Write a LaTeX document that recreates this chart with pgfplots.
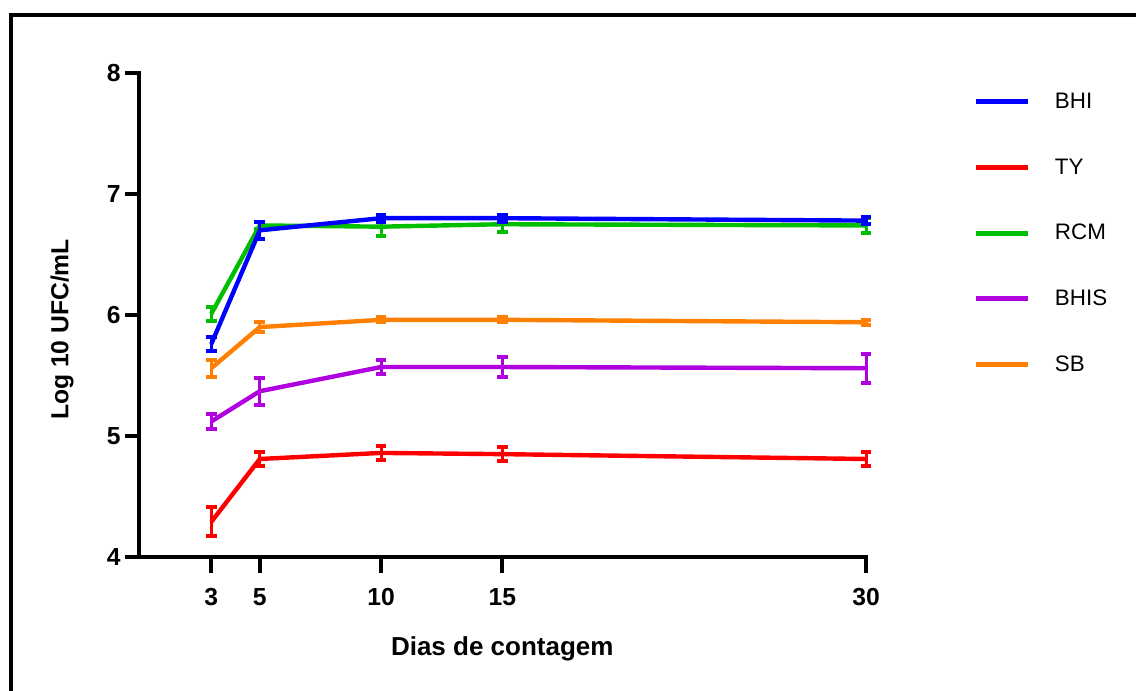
\documentclass[border=0pt]{standalone}
\usepackage{fontspec}
\setmainfont{Liberation Sans}
\usepackage{pgfplots}
\usepackage{pgfplotstable}
\pgfplotsset{compat=1.18}

\definecolor{cBHI}{RGB}{0,0,255}
\definecolor{cTY}{RGB}{255,0,0}
\definecolor{cRCM}{RGB}{0,190,0}
\definecolor{cBHIS}{RGB}{176,0,224}
\definecolor{cSB}{RGB}{255,128,0}

\pgfplotstableread{
x y e
3 5.76 0.06
5 6.70 0.07
10 6.80 0.03
15 6.80 0.03
30 6.78 0.03
}\tBHI
\pgfplotstableread{
x y e
3 4.29 0.12
5 4.81 0.06
10 4.86 0.06
15 4.85 0.06
30 4.81 0.06
}\tTY
\pgfplotstableread{
x y e
3 6.01 0.06
5 6.74 0.03
10 6.73 0.08
15 6.75 0.06
30 6.74 0.06
}\tRCM
\pgfplotstableread{
x y e
3 5.12 0.06
5 5.37 0.11
10 5.57 0.06
15 5.57 0.08
30 5.56 0.12
}\tBHIS
\pgfplotstableread{
x y e
3 5.56 0.07
5 5.90 0.04
10 5.96 0.02
15 5.96 0.02
30 5.94 0.02
}\tSB

\begin{document}
\begin{tikzpicture}
\useasboundingbox (0,0) rectangle (852pt,518.25pt);
\draw[line width=3pt] (7.9pt,-5pt) -- (7.9pt,507pt) -- (860pt,507pt);
\begin{axis}[
  at={(103.9pt,100.5pt)}, anchor=south west,
  scale only axis, width=545.6pt, height=363pt,
  xmin=0, xmax=30, ymin=4, ymax=8,
  clip=false,
  axis lines=left,
  axis line style={-, line width=3pt, line cap=rect},
  xtick={3,5,10,15,30}, ytick={4,5,6,7,8},
  tick align=outside, tick pos=left, major tick length=10pt,
  every tick/.style={draw=black, line width=3pt},
  /pgf/number format/assume math mode=true,
  ticklabel style={font=\bfseries\fontsize{18.5}{20}\selectfont},
  xticklabel style={yshift=-10pt},
  xlabel={Dias de contagem},
  ylabel={Log 10 UFC/mL},
  xlabel style={font=\bfseries\fontsize{19.5}{22}\selectfont, at={(axis description cs:0.5,-0.2025)}, anchor=base},
  ylabel style={font=\bfseries\fontsize{18.5}{20}\selectfont, at={(axis description cs:-0.105,0.47)}, anchor=center},
  every axis plot/.append style={line width=3.3pt, line join=round, mark=none},
  error bars/y dir=both, error bars/y explicit,
  error bars/error bar style={line width=2.25pt},
  error bars/error mark options={line width=3pt, mark size=4pt, rotate=90},
  legend image code/.code={\draw[line width=3.75pt] (0pt,-1pt) -- (39pt,-1pt);},
  legend style={at={(rel axis cs:1.148,0.960)}, anchor=north west, draw=none, fill=none,
    font=\fontsize{16.8}{18}\selectfont, row sep=37.25pt, column sep=18pt, inner sep=0pt,
    nodes={inner sep=0pt, text height=12pt, text depth=0pt}},
  legend cell align=left,
  reverse legend,
]
\addplot[cSB] table[x=x, y=y, y error=e] {\tSB};
\addlegendentry{SB}
\addplot[cBHIS] table[x=x, y=y, y error=e] {\tBHIS};
\addlegendentry{BHIS}
\addplot[cRCM] table[x=x, y=y, y error=e] {\tRCM};
\addlegendentry{RCM}
\addplot[cTY] table[x=x, y=y, y error=e] {\tTY};
\addlegendentry{TY}
\addplot[cBHI] table[x=x, y=y, y error=e] {\tBHI};
\addlegendentry{BHI}
% x-axis tick marks
\addplot[black, draw=none, forget plot,
  error bars/.cd, y dir=minus, y fixed=0.13, error mark=none,
  error bar style={line width=3pt, black, solid}]
  coordinates {(3,4) (5,4) (10,4) (15,4) (30,4)};
\end{axis}
\end{tikzpicture}
\end{document}
